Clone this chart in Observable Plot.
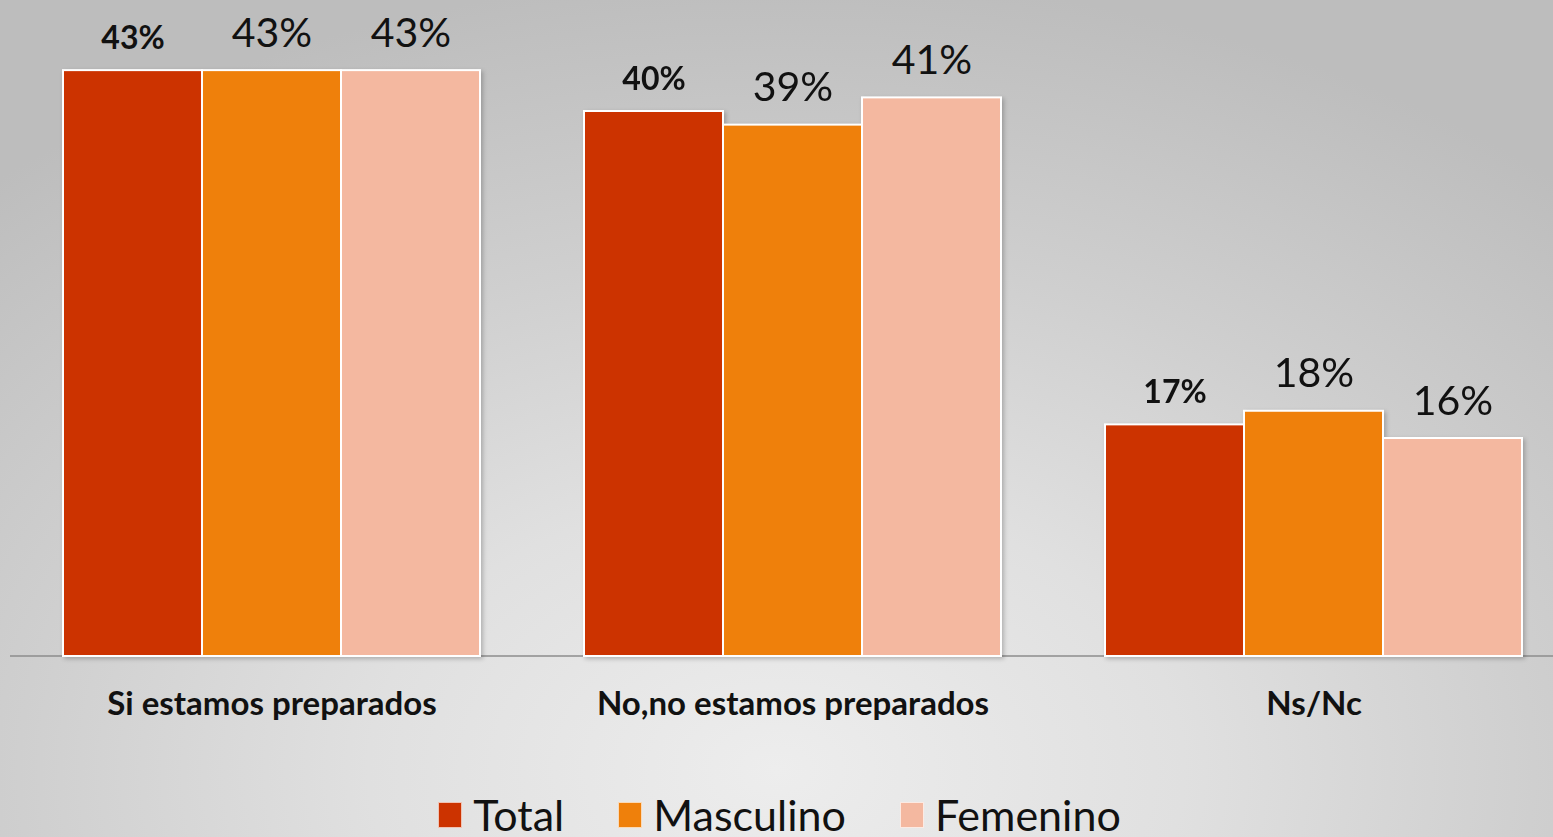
<!DOCTYPE html>
<html>
<head>
<meta charset="utf-8">
<script src="https://cdn.jsdelivr.net/npm/d3@7"></script>
<script src="https://cdn.jsdelivr.net/npm/@observablehq/plot@0.6"></script>
<style>
  html, body { margin: 0; padding: 0; width: 1553px; height: 837px; overflow: hidden; }
  body {
    background: radial-gradient(ellipse 75% 95% at 50% 92%, #ededed 0%, #e0e0e0 35%, #cfcfcf 65%, #bdbdbd 100%);
    font-family: Lato, "Open Sans", sans-serif;
  }
  #chart svg { display: block; }
  #chart g[aria-label="bar"] { filter: drop-shadow(2px 2px 2px rgba(0,0,0,0.22)); }
  #legend {
    display: flex; justify-content: center; align-items: center;
    height: 50px; line-height: 50px; font-size: 43px; color: #111;
    padding-left: 6px;
  }
  #legend .item { display: flex; align-items: center; margin: 0 27px; }
  #legend .sw { width: 24px; height: 26px; margin-right: 11px; border: 1px solid rgba(255,255,255,0.7); box-sizing: border-box; }
</style>
</head>
<body>
<div id="chart"></div>
<div id="legend"></div>
<script>
const categories = ["Si estamos preparados", "No,no estamos preparados", "Ns/Nc"];
const series = ["Total", "Masculino", "Femenino"];
const totalValues = [43, 40, 17];
const masculinoValues = [43, 39, 18];
const femeninoValues = [43, 41, 16];
const colors = ["#cc3300", "#ef800b", "#f4b8a0"];

const seriesValues = { Total: totalValues, Masculino: masculinoValues, Femenino: femeninoValues };
const data = categories.flatMap((c, i) => series.map(s => ({ category: c, series: s, value: seriesValues[s][i] })));

const plot = Plot.plot({
  width: 1553,
  height: 790,
  marginLeft: 63,
  marginRight: 31,
  marginTop: 2,
  marginBottom: 134,
  style: { fontFamily: "Lato, 'Open Sans', sans-serif", background: "transparent", overflow: "visible", color: "#111" },
  fx: { domain: categories, paddingInner: 0.2, paddingOuter: 0, label: null },
  x: { domain: series, padding: 0, axis: null },
  y: { domain: [0, 48], axis: null },
  color: { domain: series, range: colors },
  marks: [
    Plot.barY(data, { fx: "category", x: "series", y: "value", fill: "series", stroke: "white", strokeWidth: 2 }),
    Plot.text(data.filter(d => d.series === "Total"), {
      fx: "category", x: "series", y: "value", text: d => d.value + "%",
      dy: -22, lineAnchor: "bottom", fontSize: 32, fontWeight: "bold", fill: "#111"
    }),
    Plot.text(data.filter(d => d.series !== "Total"), {
      fx: "category", x: "series", y: "value", text: d => d.value + "%",
      dy: -24, lineAnchor: "bottom", fontSize: 41, fill: "#111"
    }),
    Plot.axisFx({ anchor: "bottom", tickSize: 0, tickPadding: 35, fontSize: 33, fontWeight: "bold", label: null })
  ]
});

const y0 = plot.scale("y").apply(0);
d3.select(plot).insert("line", ":first-child")
  .attr("x1", 10).attr("x2", 1553)
  .attr("y1", y0).attr("y2", y0)
  .attr("stroke", "#8c8c8c").attr("stroke-width", 1.5);

document.getElementById("chart").appendChild(plot);

const legend = d3.select("#legend");
series.forEach((s, i) => {
  const item = legend.append("div").attr("class", "item");
  item.append("div").attr("class", "sw").style("background", colors[i]);
  item.append("span").text(s);
});
</script>
</body>
</html>
